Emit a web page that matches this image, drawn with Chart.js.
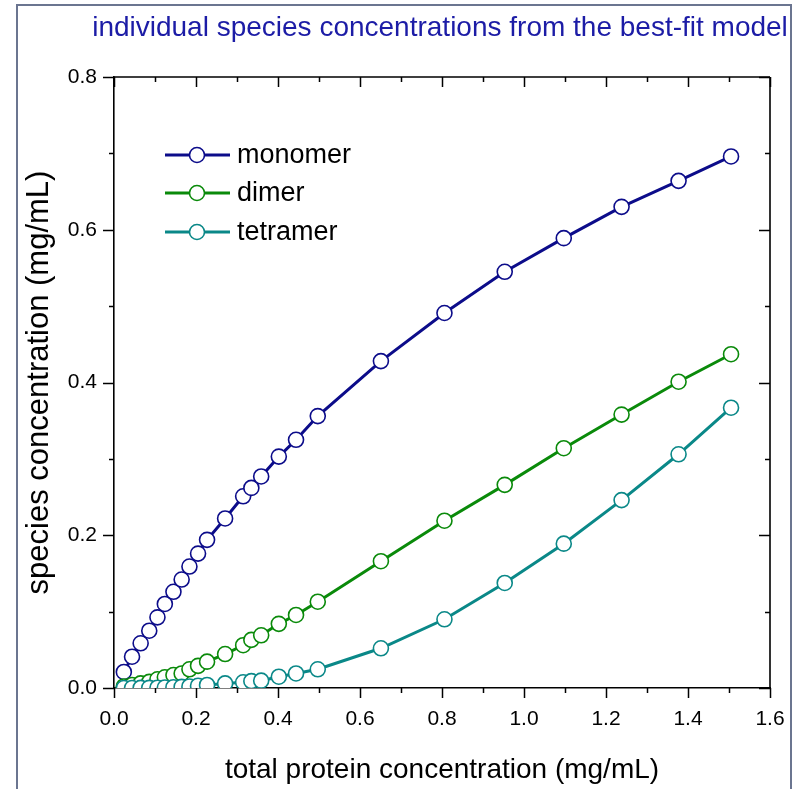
<!DOCTYPE html>
<html>
<head>
<meta charset="utf-8">
<script src="https://cdn.jsdelivr.net/npm/chart.js@4/dist/chart.umd.min.js"></script>
<style>
  html, body { margin: 0; padding: 0; background: #fff; }
  #wrap { position: relative; width: 804px; height: 789px; overflow: hidden; }
  #frame { position: absolute; left: 16px; top: 4px; width: 776px; height: 820px;
           border: 2px solid #6b7590; box-sizing: border-box; pointer-events: none; }
  canvas { position: absolute; left: 0; top: 0; }
</style>
</head>
<body>
<div id="wrap">
  <canvas id="chart" width="804" height="789"></canvas>
  <div id="frame"></div>
</div>
<script>
// total protein concentration (mg/mL)
const totalConc = [0.024, 0.044, 0.065, 0.086, 0.106, 0.124, 0.145, 0.165, 0.184, 0.205,
                   0.227, 0.271, 0.315, 0.335, 0.359, 0.402, 0.444, 0.497,
                   0.651, 0.806, 0.953, 1.097, 1.238, 1.377, 1.505];
// species concentrations (mg/mL)
const monomer  = [0.021, 0.041, 0.0585, 0.075, 0.0925, 0.110, 0.126, 0.142, 0.159, 0.176,
                  0.194, 0.222, 0.251, 0.262, 0.277, 0.303, 0.325, 0.356,
                  0.428, 0.491, 0.545, 0.589, 0.630, 0.664, 0.696];
const dimer    = [0.002, 0.004, 0.006, 0.008, 0.0114, 0.014, 0.017, 0.019, 0.0245, 0.029,
                  0.0345, 0.0445, 0.056, 0.063, 0.069, 0.084, 0.0956, 0.113,
                  0.166, 0.219, 0.266, 0.314, 0.358, 0.401, 0.437];
const tetramer = [0.0, 0.0, 0.0001, 0.0002, 0.0004, 0.0006, 0.001, 0.0015, 0.002, 0.003,
                  0.004, 0.006, 0.0075, 0.009, 0.0096, 0.0148, 0.019, 0.0245,
                  0.052, 0.090, 0.1375, 0.189, 0.246, 0.306, 0.367];

const seriesNames  = ['monomer', 'dimer', 'tetramer'];
const seriesColors = ['#0c0c8a', '#0a8a0a', '#0a8888'];
const xRange = [0, 1.6];
const yRange = [0, 0.8];
const majorStep = 0.2;
const minorStep = 0.1;

const titleText = 'individual species concentrations from the best-fit model';
const xTitle = 'total protein concentration (mg/mL)';
const yTitle = 'species concentration (mg/mL)';

const FONT = "'Liberation Sans', Arial, sans-serif";

function pts(ys) { return totalConc.map((x, i) => ({ x: x, y: ys[i] })); }

function ds(label, ys, color, order) {
  return {
    label: label, data: pts(ys), order: order,
    borderColor: color, borderWidth: 3,
    pointRadius: 7.5, pointHoverRadius: 7.5,
    pointBackgroundColor: '#ffffff', pointBorderColor: color, pointBorderWidth: 1.6,
    tension: 0, fill: false
  };
}

// Box frame with major/minor tick marks on all four sides
const axisBox = {
  id: 'axisBox',
  afterDraw(chart) {
    const { ctx, chartArea: a, scales } = chart;
    const xs = scales.x, ys = scales.y;
    ctx.save();
    ctx.strokeStyle = '#000';
    ctx.lineWidth = 1.6;
    ctx.beginPath();
    ctx.moveTo(a.left, a.top); ctx.lineTo(a.right, a.top);
    ctx.moveTo(a.right, a.top); ctx.lineTo(a.right, a.bottom);
    ctx.stroke();
    ctx.lineWidth = 1.5;
    ctx.beginPath();
    const nx = Math.round((xRange[1] - xRange[0]) / minorStep);
    for (let i = 0; i <= nx; i++) {
      const v = xRange[0] + i * minorStep;
      const len = (i % 2 === 0) ? 10 : 5;
      const px = Math.round(xs.getPixelForValue(v)) + 0.5;
      ctx.moveTo(px, a.bottom); ctx.lineTo(px, a.bottom + len);
      ctx.moveTo(px, a.top); ctx.lineTo(px, a.top + len);
    }
    const ny = Math.round((yRange[1] - yRange[0]) / minorStep);
    for (let i = 0; i <= ny; i++) {
      const v = yRange[0] + i * minorStep;
      const len = (i % 2 === 0) ? 11 : 5;
      const py = Math.round(ys.getPixelForValue(v)) + 0.5;
      ctx.moveTo(a.left, py); ctx.lineTo(a.left - len, py);
      ctx.moveTo(a.right, py); ctx.lineTo(a.right - len, py);
    }
    ctx.stroke();
    ctx.restore();
  }
};

// Legend drawn inside the plot, upper left, and the heading above the plot
const insideLegend = {
  id: 'insideLegend',
  afterDraw(chart) {
    const { ctx } = chart;
    const x0 = 165, x1 = 230, xc = 197, tx = 237;
    const rows = [155, 193, 232];
    ctx.save();
    chart.data.datasets.forEach((d, i) => {
      const y = rows[i];
      ctx.strokeStyle = d.borderColor;
      ctx.lineWidth = 3;
      ctx.beginPath(); ctx.moveTo(x0, y); ctx.lineTo(x1, y); ctx.stroke();
      ctx.beginPath(); ctx.arc(xc, y, 7.5, 0, Math.PI * 2);
      ctx.fillStyle = '#fff'; ctx.fill();
      ctx.lineWidth = 1.6; ctx.stroke();
      ctx.fillStyle = '#000';
      ctx.font = '27px ' + FONT;
      ctx.textBaseline = 'middle';
      ctx.textAlign = 'left';
      ctx.fillText(d.label, tx, y + 1);
    });
    ctx.fillStyle = '#1c1ca6';
    ctx.font = '28px ' + FONT;
    ctx.textAlign = 'center';
    ctx.textBaseline = 'middle';
    ctx.fillText(titleText, 440, 28);
    ctx.restore();
  }
};

new Chart(document.getElementById('chart'), {
  type: 'line',
  data: {
    datasets: [
      ds(seriesNames[0], monomer, seriesColors[0], 2),
      ds(seriesNames[1], dimer, seriesColors[1], 1),
      ds(seriesNames[2], tetramer, seriesColors[2], 0)
    ]
  },
  options: {
    responsive: false,
    animation: false,
    events: [],
    layout: { padding: { left: 0, right: 34, top: 77, bottom: 0 } },
    plugins: { legend: { display: false }, tooltip: { enabled: false }, title: { display: false } },
    scales: {
      x: {
        type: 'linear', min: xRange[0], max: xRange[1],
        afterFit(s) { s.height = 101; },
        ticks: { stepSize: majorStep, color: '#000', padding: 19,
                 font: { family: FONT, size: 21 },
                 callback: v => v.toFixed(1), maxRotation: 0 },
        grid: { display: true, drawOnChartArea: false, drawTicks: false },
        border: { display: true, color: '#000', width: 1.6 },
        title: { display: true, text: xTitle, color: '#000',
                 font: { family: FONT, size: 28 }, padding: { top: 0, bottom: 2 } }
      },
      y: {
        type: 'linear', min: yRange[0], max: yRange[1],
        afterFit(s) { s.width = 114; },
        ticks: { stepSize: majorStep, color: '#000', padding: 17,
                 font: { family: FONT, size: 21 },
                 callback: v => v.toFixed(1) },
        grid: { display: true, drawOnChartArea: false, drawTicks: false },
        border: { display: true, color: '#000', width: 1.6 },
        title: { display: true, text: yTitle, color: '#000',
                 font: { family: FONT, size: 31 }, padding: { top: 21, bottom: 0 } }
      }
    }
  },
  plugins: [axisBox, insideLegend]
});
</script>
</body>
</html>
